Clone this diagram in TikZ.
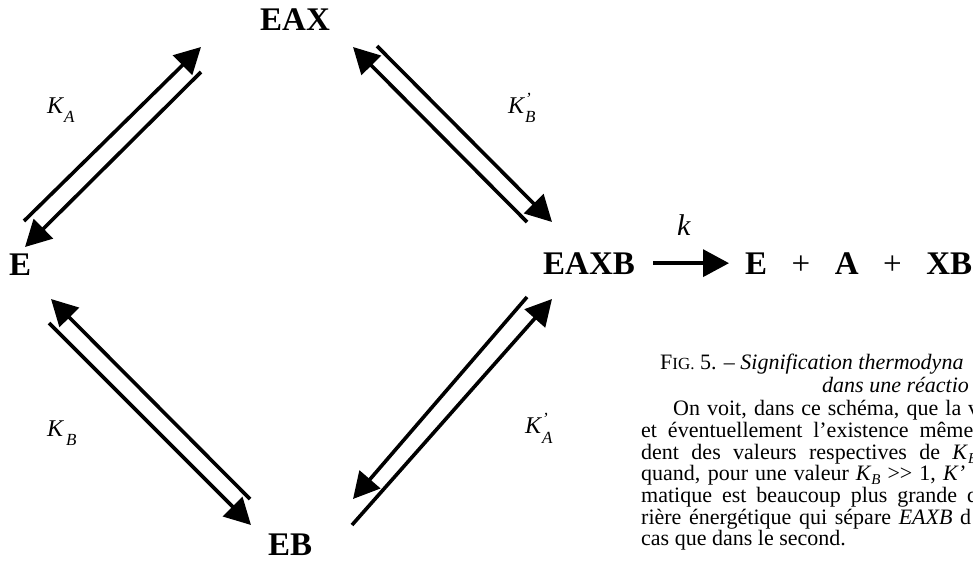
\documentclass[tikz,border=0pt]{standalone}
\usepackage{fontspec}
\setmainfont{Liberation Serif}
\usetikzlibrary{arrows.meta}
\begin{document}
\begin{tikzpicture}[x=1pt,y=-1pt,
  lbl/.style={inner sep=0pt, anchor=base west, font=\fontsize{33}{36}\selectfont\bfseries},
  klbl/.style={inner sep=0pt, anchor=base west, font=\fontsize{24}{24}\selectfont\itshape},
  captxt/.style={inner sep=0pt, anchor=base west, font={\fontsize{22}{22}\selectfont}},
  arr/.style={line width=3.6pt, -{Triangle[length=26pt,width=27pt]}}]
\useasboundingbox (0,0) rectangle (973,562);
\clip (0,0) rectangle (973,562);
% species
\node[lbl] (EAX) at (260,30) {EAX};
\node[lbl] (E) at (9,275) {E};
\node[lbl] (EAXB) at (543,274) {EAXB};
\node[lbl] (prod) at (745,274) {E\hspace{24.5pt}{\mdseries +}\hspace{24.5pt}A\hspace{24.5pt}{\mdseries +}\hspace{24.5pt}XB};
\node[lbl] (EB) at (268,555) {EB};
% constants
\node[klbl] (KA) at (47,113) {K\kern1pt\raisebox{-9pt}{\fontsize{17}{17}\selectfont A}};
\node[klbl] (KpB) at (508,113) {K\kern1pt\rlap{\raisebox{9pt}{\fontsize{17}{17}\selectfont '}}\raisebox{-9pt}{\fontsize{17}{17}\selectfont B}};
\node[klbl] (KB) at (47,436) {K\kern3pt\raisebox{-9pt}{\fontsize{17}{17}\selectfont B}};
\node[klbl] (KpA) at (525,433) {K\kern1pt\rlap{\raisebox{9pt}{\fontsize{17}{17}\selectfont '}}\raisebox{-10pt}{\fontsize{17}{17}\selectfont A}};
\node[inner sep=0pt, anchor=base west, font=\fontsize{30}{30}\selectfont\itshape] (k) at (677,235) {k};
% arrow end points
\coordinate (p1a) at (24,221);  \coordinate (p1b) at (201,47);
\coordinate (p2a) at (201,72);  \coordinate (p2b) at (25,247);
\coordinate (p3a) at (527,222); \coordinate (p3b) at (353,47);
\coordinate (p4a) at (377,46);  \coordinate (p4b) at (552,222);
\coordinate (p5a) at (250,499); \coordinate (p5b) at (51,299);
\coordinate (p6a) at (49,323);  \coordinate (p6b) at (251,525);
\coordinate (p7a) at (527,297); \coordinate (p7b) at (353,499);
\coordinate (p8a) at (352,525); \coordinate (p8b) at (552,299);
\draw[arr] (p1a) -- (p1b);
\draw[arr] (p2a) -- (p2b);
\draw[arr] (p3a) -- (p3b);
\draw[arr] (p4a) -- (p4b);
\draw[arr] (p5a) -- (p5b);
\draw[arr] (p6a) -- (p6b);
\draw[arr] (p7a) -- (p7b);
\draw[arr] (p8a) -- (p8b);
\draw[arr, shorten <=18pt, shorten >=16pt] (EAXB.east) -- (prod.west);
% caption and text
\node[captxt] (c1) at (660,369.5) {F{\fontsize{17}{17}\selectfont IG.} 5. – {\itshape Signification thermodyna}};
\node[captxt] (c2) at (822,392) {\itshape dans une réactio};
\node[captxt] (c3) at (673,415.5) {\makebox[306pt][s]{On voit, dans ce schéma, que la v}};
\node[captxt] (c4) at (641,437.3) {\makebox[332pt][s]{et éventuellement l’existence même}};
\node[captxt] (c5) at (641,459) {\makebox[336pt][s]{dent des valeurs respectives de \textit{K}\raisebox{-4pt}{\fontsize{15}{15}\selectfont\itshape B}}};
\node[captxt] (c6) at (641,480.7) {\makebox[324pt][s]{quand, pour une valeur \textit{K}\raisebox{-4pt}{\fontsize{15}{15}\selectfont\itshape B} >\kern0pt> 1, \textit{K’}}};
\node[captxt] (c7) at (641,502.4) {\makebox[337pt][s]{matique est beaucoup plus grande q}};
\node[captxt] (c8) at (641,524.1) {\makebox[330pt][s]{rière énergétique qui sépare \textit{EAXB} d}};
\node[captxt] (c9) at (641,545.8) {cas que dans le second.};
\end{tikzpicture}
\end{document}
